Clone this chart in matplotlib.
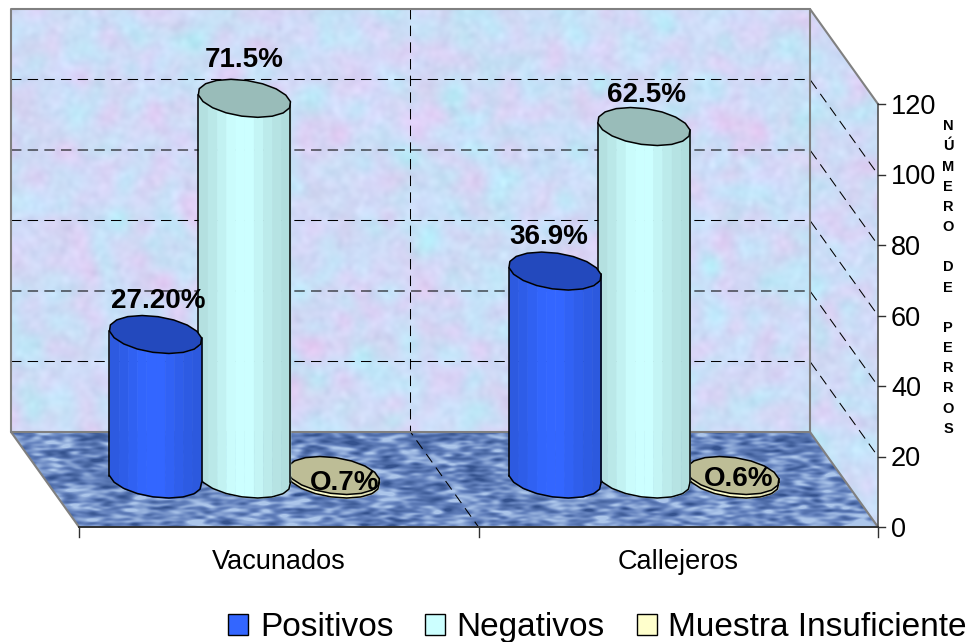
# -*- coding: UTF-8 -*-
import numpy as np
from matplotlib import pyplot as plt
from matplotlib.patches import Patch, Polygon

plt.rcParams['font.family'] = ['Liberation Sans', 'DejaVu Sans']

categories = ['Vacunados', 'Callejeros']
series_names = ['Positivos', 'Negativos', 'Muestra Insuficiente']
positivos = [41, 59]
negativos = [108, 100]
insuficiente = [1, 1]
labels_positivos = ['27.20%', '36.9%']
labels_negativos = ['71.5%', '62.5%']
labels_insuficiente = ['O.7%', 'O.6%']
y_ticks = [0, 20, 40, 60, 80, 100, 120]
y_title = 'NÚMERO DE PERROS'

W, H = 975, 642
PX_X = 399.5   # pixels per category
PX_Y = 3.525   # pixels per count
X0, Y0 = 79, 527

# oblique depth of the box, in data units
DX = -68 / PX_X
DY = 95 / PX_Y
YMAX = 120
BAR_STEP = 0.2225
BAR_A = 0.111
BAR_B = 0.2
BAR_DEPTH = 0.505


def px(x):
    return x / PX_X


def py(y):
    return y / PX_Y


def blur(a, sx, sy):
    fy = np.fft.fftfreq(a.shape[0])[:, None]
    fx = np.fft.fftfreq(a.shape[1])[None, :]
    g = np.exp(-2 * np.pi ** 2 * ((fx * sx) ** 2 + (fy * sy) ** 2))
    out = np.fft.ifft2(np.fft.fft2(a) * g).real
    return (out - out.mean()) / out.std()


def wall_texture(rng):
    n1 = blur(rng.normal(size=(H, W)), 8, 8)
    n2 = blur(rng.normal(size=(H, W)), 8, 8)
    n3 = blur(rng.normal(size=(H, W)), 2.5, 2.5)
    img = np.zeros((H, W, 3))
    img[..., 0] = 206 + 6 * n1 - 2 * n2 + 2.5 * n3
    img[..., 1] = 220 - 4 * n1 + 3 * n2 + 2.5 * n3
    img[..., 2] = 247 + 2 * n2 + 2 * n3
    return np.clip(img, 0, 255) / 255


def floor_texture(rng):
    n = 0.85 * blur(rng.normal(size=(H, W)), 4, 1.2) + 0.35 * blur(rng.normal(size=(H, W)), 10, 4)
    ramp = np.interp(np.arange(H), [432, 527], [-0.2, 0.7])[:, None]
    v = n + ramp
    img = np.zeros((H, W, 3))
    img[..., 0] = np.interp(v, [-2, 0, 2], [52, 100, 172])
    img[..., 1] = np.interp(v, [-2, 0, 2], [82, 130, 198])
    img[..., 2] = np.interp(v, [-2, 0, 2], [142, 190, 235])
    return img / 255


def textured(ax, img, pts):
    im = ax.imshow(img, extent=(px(-X0), px(W - X0), py(Y0 - H), py(Y0)),
                   origin='upper', aspect='auto', zorder=1, interpolation='bilinear')
    poly = Polygon(pts, closed=True, transform=ax.transData)
    im.set_clip_path(poly)


def ring(cx, y, n=18):
    t = np.linspace(0, 2 * np.pi, n, endpoint=False) + 0.17
    xs = cx + BAR_A * np.cos(t) + BAR_B * DX * np.sin(t)
    ys = y + BAR_B * DY * np.sin(t)
    return xs, ys


def lower_path(xs, ys, xf):
    # front half of the ring, read at the x positions in xf
    i0, i1 = np.argmin(xs), np.argmax(xs)
    idx = [(i0 + k) % len(xs) for k in range((i1 - i0) % len(xs) + 1)]
    if np.mean(ys[idx]) > np.mean(ys):
        idx = [(i0 - k) % len(xs) for k in range((i0 - i1) % len(xs) + 1)]
    return np.interp(xf, xs[idx], ys[idx])


def draw_bar(ax, cx, value, body, top, z):
    floor_y = BAR_DEPTH * DY
    xs, ys = ring(cx, floor_y)
    xt, yt = ring(cx, floor_y + value)
    body = np.array(body)

    shades = [0.88, 0.91, 0.95, 0.99, 1.0, 1.0, 0.96, 0.92, 0.89, 0.87]
    edges = np.linspace(xs.min(), xs.max(), len(shades) + 1)
    for k, s in enumerate(shades):
        xx = np.linspace(edges[k], edges[k + 1], 8)
        ax.fill_between(xx, lower_path(xs, ys, xx), lower_path(xt, yt, xx),
                        color=body * s, lw=0.4, zorder=z)
    xf = np.linspace(edges[0], edges[-1], 60)
    yb = lower_path(xs, ys, xf)
    ytop = lower_path(xt, yt, xf)
    ax.plot(xf, yb, color='black', lw=1.1, zorder=z + 0.2)
    ax.plot([xf[0], xf[0]], [yb[0], ytop[0]], color='black', lw=1.1, zorder=z + 0.2)
    ax.plot([xf[-1], xf[-1]], [yb[-1], ytop[-1]], color='black', lw=1.1, zorder=z + 0.2)
    ax.add_patch(Polygon(np.c_[xt, yt], closed=True, facecolor=top, edgecolor='black',
                         lw=1.1, joinstyle='round', zorder=z + 0.3))
    return cx, floor_y + value


fig = plt.figure(figsize=(W / 100, H / 100), dpi=100)
ax = fig.add_axes([0, 0, 1, 1])
rng = np.random.default_rng(7)

# box: back wall, side wall and floor
back = [(DX, DY), (2 + DX, DY), (2 + DX, DY + YMAX), (DX, DY + YMAX)]
side = [(2 + DX, DY), (2, 0), (2, YMAX), (2 + DX, DY + YMAX)]
floor = [(DX, DY), (2 + DX, DY), (2, 0), (0, 0)]
wall_img = wall_texture(rng)
textured(ax, wall_img, back)
textured(ax, wall_img, side)
textured(ax, floor_texture(rng), floor)

grid = dict(color='black', lw=0.75, ls=(0, (10, 6)), zorder=2)
for v in y_ticks[1:-1]:
    ax.plot([DX, 2 + DX, 2], [DY + v, DY + v, v], **grid)
ax.plot([1 + DX, 1 + DX, 1], [DY + YMAX, DY, 0], **grid)

edge = dict(color='#808080', lw=1.5, zorder=2.5, solid_capstyle='round')
ax.plot([DX, DX, 2 + DX, 2 + DX, 2], [DY, DY + YMAX, DY + YMAX, DY, 0], **edge)
ax.plot([DX, 2 + DX], [DY, DY], **edge)
ax.plot([DX, 0], [DY, 0], **edge)
ax.plot([2 + DX, 2], [DY + YMAX, YMAX], **edge)
ax.plot([2, 2], [0, YMAX], color='#505050', lw=1.2, zorder=2.6)
ax.plot([0, 2], [0, 0], color='#303030', lw=1.4, zorder=2.6)

# axis ticks and labels
for v in y_ticks:
    ax.plot([2, 2 + px(7)], [v, v], color='#303030', lw=1, zorder=2.6)
    ax.text(2 + px(13), v, str(v), fontsize=19.5, color='black', ha='left', va='center_baseline', zorder=6)
for x in [0, 1, 2]:
    ax.plot([x, x], [0, -py(10)], color='#303030', lw=1, zorder=2.6)
for i, name in enumerate(categories):
    ax.text(i + 0.5, -py(32), name, fontsize=19.5, ha='center', va='center_baseline', zorder=6)
ax.text(px(948 - X0), py(Y0 - 277.5), '\n'.join(y_title), fontsize=10.5, fontweight='bold',
        ha='center', va='center', linespacing=1.56, zorder=6)

# cylinders, drawn back to front so each one overlaps the next series
styles = [
    (positivos, labels_positivos, (0.20, 0.40, 1.0), '#2349bd', -1, [(3, 34), (-6, 34)]),
    (negativos, labels_negativos, (0.80, 1.0, 1.0), '#99bcb9', 0, [(0, 38), (3, 32)]),
    (insuficiente, labels_insuficiente, (1.0, 1.0, 0.80), '#bdbd96', 1, [(11, -7), (6, -4)]),
]
for rank, (vals, labs, body, top, pos, nudges) in enumerate(reversed(styles)):
    for i, v in enumerate(vals):
        cx, ty = draw_bar(ax, i + 0.5 + pos * BAR_STEP + BAR_DEPTH * DX, v, body, top, 3 + rank)
        ax.text(cx + px(nudges[i][0]), ty + py(nudges[i][1]), labs[i], fontsize=20,
                fontweight='bold', ha='center', va='center', zorder=8)

handles = [Patch(facecolor=c, edgecolor='black', lw=1) for c in ['#3366ff', '#ccffff', '#ffffcc']]
ax.legend(handles, series_names, loc='lower center', bbox_to_anchor=(597.5 / W, -0.038), ncol=3,
          frameon=False, fontsize=24, handlelength=0.6, handleheight=0.6,
          handletextpad=0.35, columnspacing=0.95, borderpad=0.2)

ax.set_xlim(px(-X0), px(W - X0))
ax.set_ylim(py(Y0 - H), py(Y0))
ax.axis('off')
fig.savefig('out.png', dpi=100)
